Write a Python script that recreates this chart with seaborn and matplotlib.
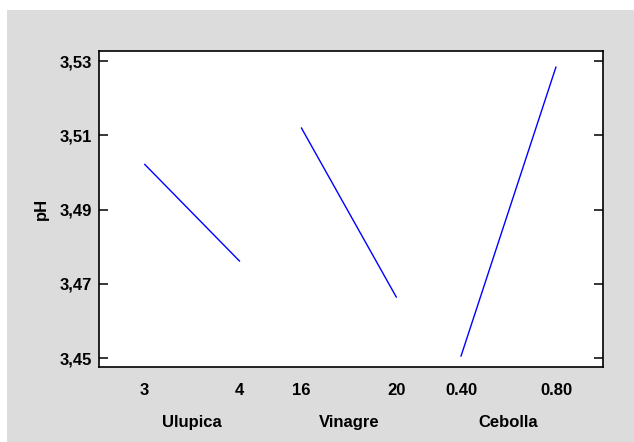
"""
plot.py
Main effects plot of pH for Ulupica, Vinagre and Cebolla
"""
import pandas as pd
import matplotlib.pyplot as plt
from matplotlib.patches import Rectangle
import seaborn as sns


# DATA =================================

factors = ['Ulupica', 'Vinagre', 'Cebolla']
levels = [['3', '4'], ['16', '20'], ['0.40', '0.80']]
ph_low = [3.5022, 3.5120, 3.4505]
ph_high = [3.4761, 3.4664, 3.5284]
y_ticks = [3.45, 3.47, 3.49, 3.51, 3.53]
y_tick_labels = ['3,45', '3,47', '3,49', '3,51', '3,53']


# LAYOUT ===============================

seg_start = [0.48, 2.13, 3.81]
seg_width = 1.0
fs = 12

rows = []
for i, name in enumerate(factors):
    rows.append({'factor': name, 'pos': seg_start[i], 'pH': ph_low[i]})
    rows.append({'factor': name, 'pos': seg_start[i] + seg_width, 'pH': ph_high[i]})
df = pd.DataFrame(rows)

sns.set_style('ticks')
plt.rcParams['font.family'] = ['Liberation Sans', 'DejaVu Sans']
plt.rcParams['font.weight'] = 'bold'
for key in ['text.color', 'axes.labelcolor', 'xtick.color', 'ytick.color',
            'xtick.labelcolor', 'ytick.labelcolor']:
    plt.rcParams[key] = 'black'

fig = plt.figure(figsize=(6.34, 4.42), dpi=100, facecolor='white')
fig.patches.append(Rectangle((7 / 634, 0), 1, 432 / 442, transform=fig.transFigure,
                             facecolor='#dcdcdc', edgecolor='none', zorder=-1))
ax = fig.add_axes([99 / 634, 75 / 442, 504 / 634, 316 / 442])
ax.set_facecolor('white')

sns.lineplot(data=df, x='pos', y='pH', units='factor', estimator=None,
             color='#0000ff', linewidth=1.0, ax=ax)

ax.set_xlim(0, 5.305)
ax.set_ylim(3.4476, 3.5327)

tick_pos = []
tick_lab = []
for i in range(len(factors)):
    tick_pos += [seg_start[i], seg_start[i] + seg_width]
    tick_lab += levels[i]
ax.set_xticks(tick_pos)
ax.set_xticklabels(tick_lab, fontsize=fs, fontweight='bold', color='black')
ax.tick_params(axis='x', length=0, pad=11.5)

ax.set_yticks(y_ticks)
ax.set_yticklabels(y_tick_labels, fontsize=fs, fontweight='bold', color='black')
ax.tick_params(axis='y', direction='in', length=6.5, width=1.1, pad=5,
               left=True, right=True, color='black')

for i, name in enumerate(factors):
    ax.text(seg_start[i] + seg_width / 2, -0.177, name, transform=ax.get_xaxis_transform(),
            ha='center', va='center', fontsize=fs, fontweight='bold', color='black')

ax.set_xlabel('')
ax.set_ylabel('pH', fontsize=fs, fontweight='bold', color='black')
ax.yaxis.set_label_coords(-0.099, 0.5)

for spine in ax.spines.values():
    spine.set_visible(True)
    spine.set_color('black')
    spine.set_linewidth(1.2)

fig.savefig('out.png', dpi=100, facecolor=fig.get_facecolor())
